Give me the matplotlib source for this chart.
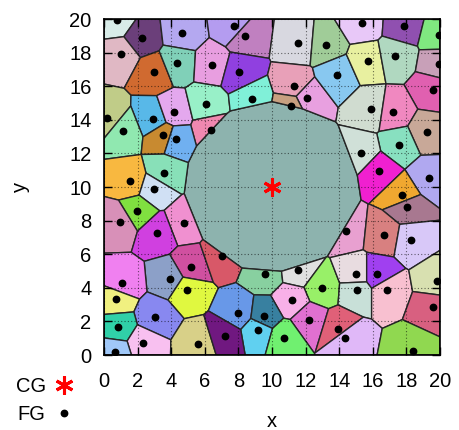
import numpy as np
import matplotlib
matplotlib.use('Agg')
import matplotlib.pyplot as plt

plt.rcParams['font.family'] = ['Liberation Sans', 'DejaVu Sans']

# coarse grain site (power weight makes its cell large)
CG_X = [10.0]
CG_Y = [10.0]
CG_WEIGHT = 24.5

# fine grain sites
FG_X = [0.75, 2.24, 4.66, 1.01, 2.98, 4.36, 6.45, 0.20, 2.94, 4.17, 6.07, 6.37, 1.15,
        7.76, 8.39, 11.57, 13.19, 8.04, 11.31, 8.83, 12.08, 11.13, 13.89,
        15.34, 17.86, 19.92, 15.69, 17.34, 19.96, 19.58, 15.89, 17.22, 19.22,
        3.53, 4.27, 3.57, 1.55, 2.99, 1.98, 0.95, 4.78, 3.17,
        17.58, 15.30, 16.39, 19.33, 17.76, 18.05, 14.39, 16.68, 18.25,
        5.16, 3.93, 1.07, 4.92, 0.71, 3.04, 0.85, 2.34, 0.65, 5.61,
        7.00, 9.58, 11.57, 12.96, 11.17, 8.00, 9.54, 12.22, 9.15, 7.20, 10.73,
        15.00, 16.27, 15.04, 16.82, 19.80, 19.60, 13.95, 14.35, 18.41]
FG_Y = [19.92, 18.87, 19.15, 17.90, 16.85, 17.40, 17.28, 14.10, 14.03, 14.46, 14.92, 13.40, 13.32,
        19.56, 18.99, 18.57, 18.43, 16.85, 16.03, 15.22, 15.30, 14.82, 16.68,
        19.76, 19.58, 19.07, 17.48, 17.78, 17.32, 15.79, 14.66, 14.46, 13.27,
        13.07, 12.83, 10.85, 10.33, 9.88, 8.55, 7.92, 7.88, 7.26,
        12.53, 12.02, 10.97, 10.54, 9.54, 8.81, 7.38, 7.14, 6.86,
        5.26, 4.54, 4.27, 3.89, 3.31, 2.26, 1.65, 0.71, 0.18, 0.64,
        5.89, 4.82, 5.04, 4.01, 3.25, 2.52, 2.32, 2.10, 1.47, 1.13, 1.03,
        4.80, 4.80, 3.85, 3.85, 4.38, 2.83, 1.57, 1.03, 0.24]

CG_COLOR = '#8db3ae'
FG_COLORS = ['#d8ece8', '#6b3f7a', '#b4a8f0', '#e0b8c4', '#d06a30', '#80d0b8', '#e89ee0',
             '#c0cc88', '#58b8e8', '#e4a8ee', '#98f0c8', '#f088b0', '#90e8b0',
             '#b49cf0', '#c080c0', '#d8d8e0', '#a0cc98', '#9040e0', '#e8a0b8', '#80f0d8',
             '#e8a0e0', '#c8a080', '#88c8f0',
             '#e8c8f8', '#9050b0', '#80e880', '#e8f0a0', '#b0d8c0', '#c8a0b8', '#e060b0',
             '#d0dcd0', '#f088c0', '#c8a898',
             '#c88a30', '#70b0f0', '#88e0b8', '#f8b840', '#d0e0f4', '#80e040', '#d890b8',
             '#f090d0', '#d040e0',
             '#88e0c0', '#d0e0d8', '#f020d0', '#b0a8f0', '#f0a830', '#a87890', '#e8a0d0',
             '#d88080', '#d8c8f8',
             '#d050a0', '#8ca0c8', '#f080f0', '#e0f840', '#f0f080', '#8888f0', '#30d0a8',
             '#f8c0f0', '#a0c8f8', '#d8d088',
             '#d85868', '#88d0a0', '#e0e0e0', '#98f068', '#f8b0e8', '#6898e8', '#3880a0',
             '#e070d0', '#60d0f0', '#701880', '#70f070',
             '#e8dce0', '#a040f0', '#c8e0d8', '#f8c0d0', '#d8e0b0', '#d86080', '#e06078',
             '#e0b8f8', '#90d850']

BOX = 20.0


def clip_halfplane(poly, a, b):
    # keep the part of the polygon where a.x <= b (Sutherland-Hodgman)
    out = []
    n = len(poly)
    for k in range(n):
        p = poly[k]
        q = poly[(k + 1) % n]
        fp = a @ p - b
        fq = a @ q - b
        if fp <= 0:
            out.append(p)
        if fp * fq < 0:
            t = fp / (fp - fq)
            out.append(p + t * (q - p))
    return out


def power_cells(pts, weights):
    box = [np.array([0.0, 0.0]), np.array([BOX, 0.0]),
           np.array([BOX, BOX]), np.array([0.0, BOX])]
    cells = []
    for i, pi in enumerate(pts):
        poly = list(box)
        for j, pj in enumerate(pts):
            if i == j:
                continue
            a = 2 * (pj - pi)
            b = pj @ pj - pi @ pi - weights[j] + weights[i]
            poly = clip_halfplane(poly, a, b)
            if not poly:
                break
        cells.append(poly)
    return cells


def main():
    pts = np.array(list(zip(CG_X + FG_X, CG_Y + FG_Y)))
    weights = np.array([CG_WEIGHT] + [0.0] * len(FG_X))
    colors = [CG_COLOR] + FG_COLORS
    cells = power_cells(pts, weights)

    fig = plt.figure(figsize=(4.59, 4.30), dpi=100)
    ax = fig.add_axes([0.2266, 0.1744, 0.732, 0.7814])

    for poly, c in zip(cells, colors):
        if len(poly) < 3:
            continue
        ax.add_patch(plt.Polygon(np.array(poly), closed=True, facecolor=c,
                                 edgecolor='#262626', lw=1.0, zorder=1))

    ax.set_xlim(0, 20)
    ax.set_ylim(0, 20)
    ax.set_xticks(range(0, 21, 2))
    ax.set_yticks(range(0, 21, 2))
    ax.grid(True, color='black', linestyle=(0, (1, 2)), lw=0.8, alpha=0.55, zorder=2)
    ax.set_axisbelow(False)

    ax.plot(CG_X, CG_Y, linestyle='none', marker=(6, 2, 0), markersize=13,
            mew=2.2, color='red', label='CG', zorder=4)
    ax.plot(FG_X, FG_Y, linestyle='none', marker='o', markersize=4.6,
            color='black', label='FG', zorder=4)

    ax.tick_params(direction='in', length=6, width=1, top=True, right=True,
                   labelsize=14.5, pad=9)
    ax.tick_params(axis='x', pad=12)
    for sp in ax.spines.values():
        sp.set_linewidth(1.2)
    ax.set_xlabel('x', fontsize=14.5, labelpad=15)
    ax.set_ylabel('y', fontsize=14.5, labelpad=28)

    fig.legend(loc='upper left', bbox_to_anchor=(0.012, 0.147), frameon=False,
               markerfirst=False, fontsize=14.5, handlelength=1.0,
               handletextpad=0.4, labelspacing=0.45, borderpad=0)

    fig.savefig('out.png', dpi=100)


if __name__ == '__main__':
    main()
